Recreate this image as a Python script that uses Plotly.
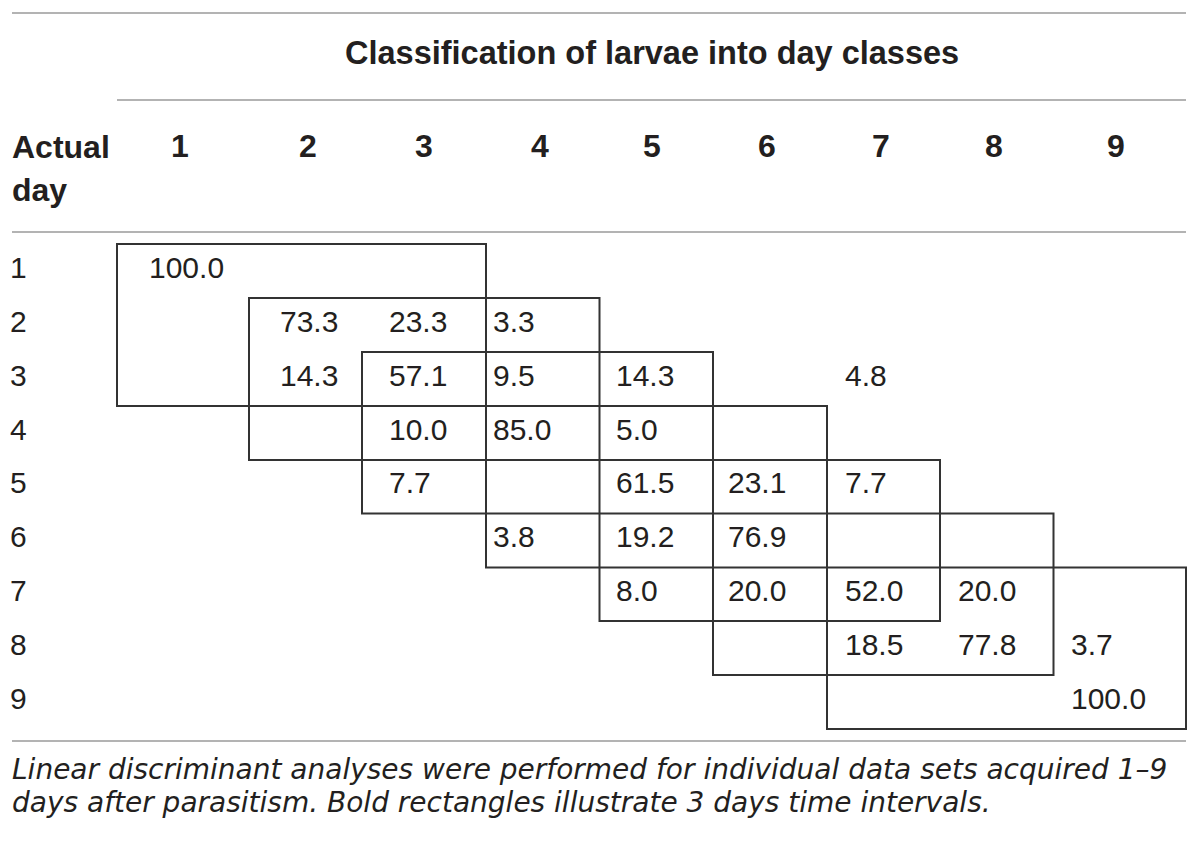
import plotly.graph_objects as go

# table data
day_classes = [1, 2, 3, 4, 5, 6, 7, 8, 9]
actual_days = [1, 2, 3, 4, 5, 6, 7, 8, 9]
row_1 = [100.0, None, None, None, None, None, None, None, None]
row_2 = [None, 73.3, 23.3, 3.3, None, None, None, None, None]
row_3 = [None, 14.3, 57.1, 9.5, 14.3, None, 4.8, None, None]
row_4 = [None, None, 10.0, 85.0, 5.0, None, None, None, None]
row_5 = [None, None, 7.7, None, 61.5, 23.1, 7.7, None, None]
row_6 = [None, None, None, 3.8, 19.2, 76.9, None, None, None]
row_7 = [None, None, None, None, 8.0, 20.0, 52.0, 20.0, None]
row_8 = [None, None, None, None, None, None, 18.5, 77.8, 3.7]
row_9 = [None, None, None, None, None, None, None, None, 100.0]
rows = [row_1, row_2, row_3, row_4, row_5, row_6, row_7, row_8, row_9]
interval_starts = [1, 2, 3, 4, 5, 6, 7]   # 3 day windows (bold rectangles)
interval_len = 3

title = "Classification of larvae into day classes"
row_header = ["Actual", "day"]
caption = ["Linear discriminant analyses were performed for individual data sets acquired 1\u20139",
           "days after parasitism. Bold rectangles illustrate 3 days time intervals."]

# layout geometry (axis units = page pixels; page body has an 8px margin)
W, H = 1200, 846
PAD = 8
col_edges = [117, 249, 362, 486, 599.5, 713, 827, 940, 1053.5, 1186]
row_edges = [244, 298, 352, 406, 460, 513.5, 567.5, 621, 675, 729]
text_left = [149, 280, 389, 493, 616, 728, 845, 958, 1071]
head_x = [180, 308, 424, 540, 652, 767, 881, 994, 1116]
left = 12
right = 1186

txt_col = "#231f20"
rule_col = "#b3b3b3"
box_col = "#333333"
regular = "Liberation Sans"

fig = go.Figure()

# cell values
xs, ys, labels = [], [], []
for i, r in enumerate(rows):
    yc = (row_edges[i] + row_edges[i + 1]) / 2 - 1
    for j, v in enumerate(r):
        if v is None:
            continue
        xs.append(text_left[j])
        ys.append(yc)
        labels.append(f"{v:.1f}")
fig.add_trace(go.Scatter(x=xs, y=ys, text=labels, mode="text", textposition="middle right",
                         textfont=dict(family=regular, size=30, color=txt_col),
                         hoverinfo="skip", showlegend=False))

# row labels (actual day)
fig.add_trace(go.Scatter(
    x=[left - 2] * len(actual_days),
    y=[(row_edges[i] + row_edges[i + 1]) / 2 - 1 for i in range(len(actual_days))],
    text=[str(d) for d in actual_days], mode="text", textposition="middle right",
    textfont=dict(family=regular, size=30, color=txt_col), hoverinfo="skip", showlegend=False))

# column headers
fig.add_trace(go.Scatter(
    x=head_x, y=[149] * len(day_classes), text=[f"<b>{d}</b>" for d in day_classes],
    mode="text", textposition="middle center",
    textfont=dict(family=regular, size=32, color=txt_col), hoverinfo="skip", showlegend=False))

annos = [
    dict(x=652, y=53, text=f"<b>{title}</b>", xanchor="center", yanchor="middle",
         font=dict(family=regular, size=32.5, color=txt_col)),
    dict(x=left - 2, y=147, text=f"<b>{row_header[0]}</b>", xanchor="left", yanchor="middle",
         font=dict(family=regular, size=32, color=txt_col)),
    dict(x=left - 2, y=190, text=f"<b>{row_header[1]}</b>", xanchor="left", yanchor="middle",
         font=dict(family=regular, size=32, color=txt_col)),
    dict(x=left - 2, y=769, text=f"<i>{caption[0]}</i>", xanchor="left", yanchor="middle",
         font=dict(family="DejaVu Sans", size=28, color=txt_col)),
    dict(x=left - 2, y=802, text=f"<i>{caption[1]}</i>", xanchor="left", yanchor="middle",
         font=dict(family="DejaVu Sans", size=28, color=txt_col)),
]
for a in annos:
    a.update(xref="x", yref="y", showarrow=False)

shapes = []
# horizontal rules
for x0, yv in [(left, 13), (col_edges[0], 100), (left, 232), (left, 741)]:
    shapes.append(dict(type="line", x0=x0, x1=right, y0=yv, y1=yv,
                       line=dict(color=rule_col, width=2)))
# bold 3-day rectangles
for s in interval_starts:
    shapes.append(dict(type="rect",
                       x0=col_edges[s - 1], x1=col_edges[s - 1 + interval_len],
                       y0=row_edges[s - 1], y1=row_edges[s - 1 + interval_len],
                       line=dict(color=box_col, width=2)))
for sh in shapes:
    sh.update(xref="x", yref="y", layer="below")

fig.update_layout(
    width=W - PAD, height=H - PAD,
    margin=dict(l=0, r=0, t=0, b=0),
    paper_bgcolor="white", plot_bgcolor="white",
    xaxis=dict(range=[PAD, W], visible=False, fixedrange=True),
    yaxis=dict(range=[H, PAD], visible=False, fixedrange=True),
    annotations=annos, shapes=shapes,
)
fig.write_html("out.html")
